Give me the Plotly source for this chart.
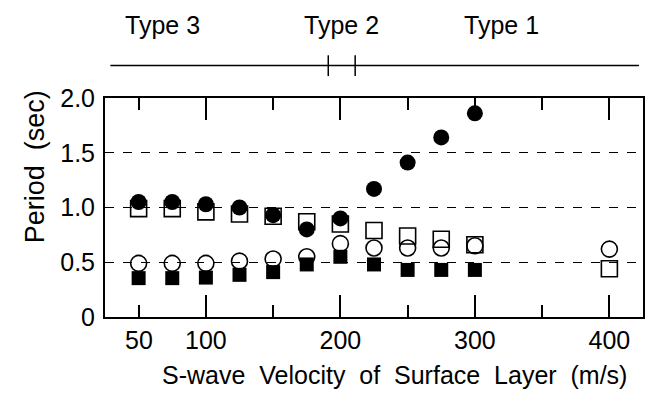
import plotly.graph_objects as go

# ---- data ----
velocity = [50, 75, 100, 125, 150, 175, 200, 225, 250, 275, 300]
filled_circle = [1.05, 1.05, 1.03, 1.00, 0.93, 0.80, 0.90, 1.17, 1.41, 1.64, 1.86]
open_square_x = [50, 75, 100, 125, 150, 175, 200, 225, 250, 275, 300, 400]
open_square = [0.99, 0.99, 0.96, 0.94, 0.92, 0.87, 0.85, 0.79, 0.74, 0.71, 0.66, 0.44]
open_circle_x = [50, 75, 100, 125, 150, 175, 200, 225, 250, 275, 300, 400]
open_circle = [0.49, 0.49, 0.49, 0.51, 0.53, 0.55, 0.67, 0.63, 0.63, 0.63, 0.65, 0.62]
filled_square = [0.355, 0.355, 0.36, 0.385, 0.41, 0.48, 0.55, 0.48, 0.43, 0.43, 0.43]

x_major_ticks = [100, 200, 300, 400]
x_minor_ticks = [50, 150, 250, 350]
y_ticks = [0, 0.5, 1.0, 1.5, 2.0]
y_ticktext = ["0", "0.5", "1.0", "1.5", "2.0"]

type_labels = ["Type 3", "Type 2", "Type 1"]
type_label_x = [68, 201, 320]
type_bounds = [191, 211]
type_line_span = [29, 422]

FONT = "Liberation Sans, Arial, Helvetica, sans-serif"
TICK_SIZE = 25

fig = go.Figure()
fig.add_trace(go.Scatter(x=open_square_x, y=open_square, mode="markers",
                         marker=dict(symbol="square-open", size=16, color="black",
                                     line=dict(width=1.6, color="black"))))
fig.add_trace(go.Scatter(x=open_circle_x, y=open_circle, mode="markers",
                         marker=dict(symbol="circle-open", size=16, color="black",
                                     line=dict(width=1.6, color="black"))))
fig.add_trace(go.Scatter(x=velocity, y=filled_square, mode="markers",
                         marker=dict(symbol="square", size=14, color="black")))
fig.add_trace(go.Scatter(x=velocity, y=filled_circle, mode="markers",
                         marker=dict(symbol="circle", size=16, color="black")))

fig.update_layout(
    width=654, height=405,
    margin=dict(l=105, r=9, t=98, b=88),
    paper_bgcolor="white", plot_bgcolor="white",
    showlegend=False,
    font=dict(family=FONT, size=TICK_SIZE, color="black"),
)
fig.update_xaxes(
    range=[25, 425], tickmode="array", tickvals=x_major_ticks,
    ticks="inside", ticklen=22, tickwidth=1.5, tickcolor="black",
    minor=dict(tickmode="array", tickvals=x_minor_ticks, ticks="inside",
               ticklen=12, tickwidth=1.5, tickcolor="black", showgrid=False),
    showline=True, linewidth=2, linecolor="black", mirror="ticks",
    showgrid=False, zeroline=False, ticklabelstandoff=0,
    tickfont=dict(size=TICK_SIZE, family=FONT),
)
fig.update_yaxes(
    range=[0, 2], tickmode="array", tickvals=y_ticks, ticktext=y_ticktext,
    ticks="", showline=True, linewidth=2, linecolor="black", mirror=True,
    showgrid=True, gridcolor="black", gridwidth=1, griddash="dash",
    zeroline=False, ticklabelstandoff=3,
    tickfont=dict(size=TICK_SIZE, family=FONT),
)

# "50" label (minor tick position)
fig.add_annotation(x=50, y=0, xref="x", yref="paper", text="50", showarrow=False,
                   yanchor="top", yshift=-7, font=dict(size=TICK_SIZE, family=FONT))

# axis titles
fig.add_annotation(x=240, y=-0.265, xref="x", yref="paper", xanchor="center",
                   yanchor="middle",
                   text="S-wave  Velocity  of  Surface  Layer  (m/s)", showarrow=False,
                   font=dict(size=25, family=FONT))
fig.add_annotation(x=-0.13, y=0.684, xref="paper", yref="paper", xanchor="center",
                   yanchor="middle",
                   text="Period  (sec)", textangle=-90, showarrow=False,
                   font=dict(size=27, family=FONT))

# type labels and bracket line
for lbl, lx in zip(type_labels, type_label_x):
    fig.add_annotation(x=lx, y=1.335, xref="x", yref="paper", text=lbl,
                       xanchor="center", yanchor="middle",
                       showarrow=False, font=dict(size=25, family=FONT))
fig.add_shape(type="line", xref="x", yref="paper",
              x0=type_line_span[0], x1=type_line_span[1], y0=1.148, y1=1.148,
              line=dict(color="black", width=1.5))
for bx in type_bounds:
    fig.add_shape(type="line", xref="x", yref="paper", x0=bx, x1=bx,
                  y0=1.10, y1=1.195, line=dict(color="black", width=1.5))

fig.write_html("out.html")
